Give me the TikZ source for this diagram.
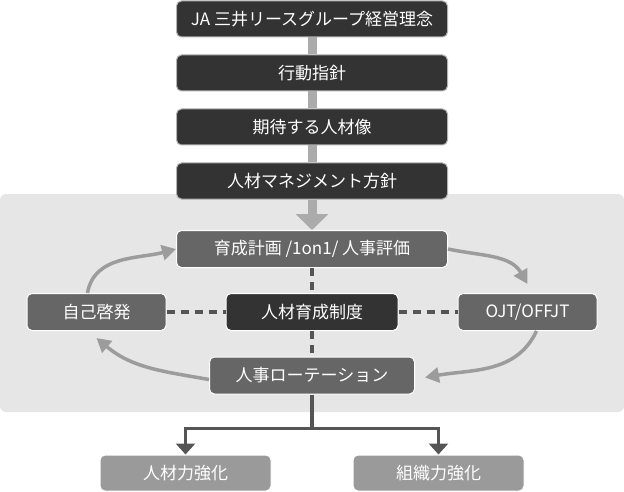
\documentclass[tikz,border=0pt]{standalone}
\usepackage{fontspec}
\setmainfont{Noto Sans CJK JP}
\definecolor{cajaoscura}{HTML}{333333}
\definecolor{cajamedia}{HTML}{666666}
\definecolor{cajaclara}{HTML}{9A9A9A}
\definecolor{fondopanel}{HTML}{E6E6E6}
\definecolor{grisflecha}{HTML}{9C9C9C}
\definecolor{grisbarra}{HTML}{ABABAB}
\definecolor{grisrama}{HTML}{555555}
\usetikzlibrary{arrows.meta}

\begin{document}
\begin{tikzpicture}[x=1pt, y=1pt,
    caja/.style={rounded corners=5pt, draw=white, line width=1pt, text=white,
                 font=\fontsize{17}{19}\selectfont, inner sep=0pt},
    cajatop/.style={caja, fill=cajaoscura, draw=gray!60, minimum width=271pt, minimum height=36pt},
    ciclo/.style={grisflecha, line width=3.5pt, -{Triangle[width=15pt,length=14pt]}},
    punteada/.style={grisrama, line width=4pt, dash pattern=on 8pt off 6pt},
    rama/.style={grisrama, line width=3.5pt}]
            \useasboundingbox (0,0) rectangle (624,-492);

            % Panel de fondo
            \fill[fondopanel, rounded corners=6pt] (0,-194) rectangle (624,-412);

            % Cajas superiores
            \foreach \y/\nombre/\texto in {19/filo/{JA 三井リースグループ経営理念},
                    73/accion/行動指針, 127/ideal/期待する人材像, 181/gest/人材マネジメント方針} {
                \node[cajatop] (\nombre) at (312,-\y) {\texto};
            }

            % Barras entre cajas superiores
            \foreach \a/\b in {filo/accion, accion/ideal, ideal/gest} {
                \draw[grisbarra, line width=9pt] (\a.south) -- (\b.north);
            }

            % Ciclo de desarrollo
            \node[caja, fill=cajamedia, minimum width=271pt, minimum height=37pt] (plan) at (312,-249) {育成計画 /1on1/ 人事評価};
            \node[caja, fill=cajamedia, minimum width=139pt, minimum height=37pt] (auto) at (96.5,-312) {自己啓発};
            \node[caja, fill=cajaoscura, minimum width=172pt, minimum height=37pt] (sistema) at (312,-312) {人材育成制度};
            \node[caja, fill=cajamedia, minimum width=139pt, minimum height=37pt] (ojt) at (527.5,-312) {OJT/OFFJT};
            \node[caja, fill=cajamedia, minimum width=205pt, minimum height=37pt] (rot) at (312,-375.5) {人事ローテーション};

            % Flecha gruesa hacia el ciclo
            \draw[grisbarra, line width=9pt, -{Triangle[width=32pt,length=16pt]}] (gest.south) -- (plan.north);

            % Lineas punteadas
            \draw[punteada] (auto.east) -- (sistema.west);
            \draw[punteada] (sistema.east) -- (ojt.west);
            \draw[punteada] (plan.south) -- (sistema.north);
            \draw[punteada] (sistema.south) -- (rot.north);

            % Flechas curvas
            \draw[ciclo] ([xshift=-9pt]auto.north) to[out=80, in=195] (plan.west);
            \draw[ciclo] (plan.east) to[out=-12, in=120] ([yshift=9pt]ojt.north);
            \draw[ciclo] ([xshift=9pt]ojt.south) to[out=-115, in=10] ([xshift=10pt, yshift=-2pt]rot.east);
            \draw[ciclo] ([yshift=-4pt]rot.west) to[out=170, in=-40] ([yshift=-7pt]auto.south);

            % Resultados
            \node[caja, fill=cajaclara, minimum width=171pt, minimum height=36pt] (fuerza) at (185.5,-473) {人材力強化};
            \node[caja, fill=cajaclara, minimum width=171pt, minimum height=36pt] (org) at (438.5,-473) {組織力強化};

            \draw[rama] (rot.south) -- ++(0,-34) coordinate (corte);
            \draw[rama, -{Triangle[width=19pt,length=11pt]}] (corte) -| (fuerza.north);
            \draw[rama, -{Triangle[width=19pt,length=11pt]}] (corte) -| (org.north);
        \end{tikzpicture}
\end{document}
